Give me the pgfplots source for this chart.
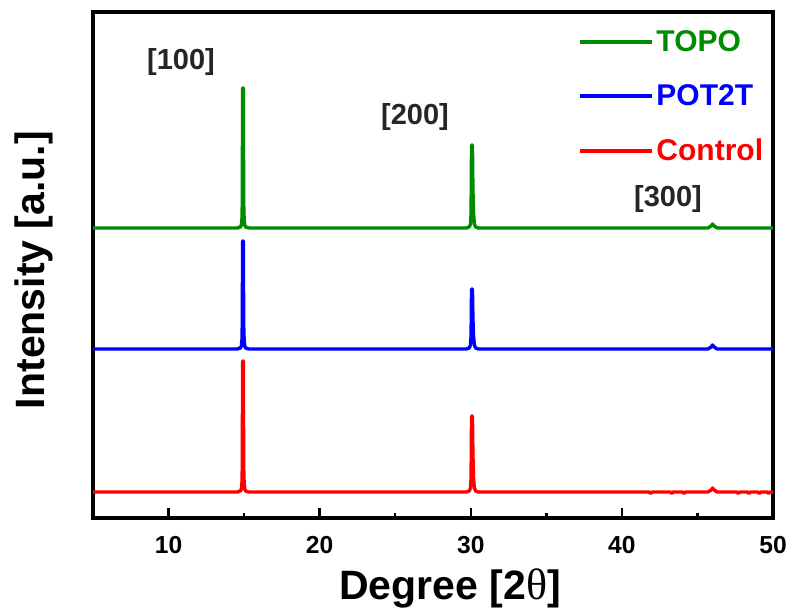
\documentclass[border=0pt]{standalone}
\usepackage{fontspec}
\setmainfont{Liberation Sans}
\newfontfamily\symfont{Liberation Serif}
\usepackage{pgfplots}
\pgfplotsset{compat=1.18}
\definecolor{topo}{RGB}{0,140,0}
\definecolor{pot}{RGB}{0,0,255}
\definecolor{ctrl}{RGB}{255,0,0}
\begin{document}
\begin{tikzpicture}
\begin{axis}[
  scale only axis, width=340pt, height=253pt,
  xmin=5, xmax=50, ymin=0, ymax=506,
  xtick={10,20,30,40,50}, minor x tick num=1,
  ytick=\empty, xtick pos=left, tick align=inside,
  major tick length=5pt, minor tick length=2.5pt,
  every tick/.style={black, line width=1.2pt},
  axis line style={line width=2.2pt},
  /pgf/number format/assume math mode=true,
  ticklabel style={font=\fontsize{12.3}{14}\selectfont\bfseries},
  xticklabel style={yshift=-5.5pt},
  xlabel={Degree [2{\symfont\mdseries\fontsize{22}{24}\selectfont θ}]},
  ylabel={Intensity [a.u.]},
  label style={font=\fontsize{20.5}{24}\selectfont\bfseries},
  xlabel style={at={(axis description cs:0.5,0)}, anchor=center, yshift=-35pt, xshift=8.5pt},
  ylabel style={at={(axis description cs:-0.087,0.49)}, anchor=center},
  legend style={draw=none, fill=none, at={(axis cs:37.1,490)}, anchor=north west,
    font=\fontsize{15}{18}\selectfont\bfseries, row sep=13pt, inner sep=0pt,
    nodes={inner sep=1pt}},
  legend cell align=left,
  legend image code/.code={\draw[#1,line width=2pt] (0pt,0pt) -- (36pt,0pt);},
  every axis plot/.append style={line width=1.7pt, line join=round},
]
% TOPO, baseline 290
\addplot[topo] coordinates {
(5,290) (14.55,290) (14.75,291) (14.82,293) (14.86,300) (14.88,316) (14.90,430) (14.95,430) (14.97,316) (15.0,300) (15.04,293) (15.1,291) (15.3,290)
(29.7,290) (29.9,291) (29.98,294) (30.02,305) (30.05,373) (30.11,373) (30.14,330) (30.18,305) (30.24,294) (30.32,291) (30.5,290)
(45.7,290) (45.9,292) (46.0,294) (46.1,292) (46.3,290) (50,290)};
\addlegendentry{\textcolor{topo}{TOPO}}
% POT2T, baseline 169
\addplot[pot] coordinates {
(5,169) (14.55,169) (14.75,170) (14.82,172) (14.86,179) (14.88,195) (14.90,277) (14.95,277) (14.97,195) (15.0,179) (15.04,172) (15.1,170) (15.3,169)
(29.7,169) (29.9,170) (29.98,173) (30.02,182) (30.05,229) (30.11,229) (30.14,200) (30.18,182) (30.24,173) (30.32,170) (30.5,169)
(45.7,169) (45.9,171) (46.0,173) (46.1,171) (46.3,169) (50,169)};
\addlegendentry{\textcolor{pot}{POT2T}}
% Control, baseline 26
\addplot[ctrl] coordinates {
(5,26) (14.55,26) (14.75,27) (14.82,29) (14.86,36) (14.88,52) (14.90,157) (14.95,157) (14.97,52) (15.0,36) (15.04,29) (15.1,27) (15.3,26)
(29.7,26) (29.9,27) (29.98,30) (30.02,40) (30.05,102) (30.11,102) (30.14,65) (30.18,40) (30.24,30) (30.32,27) (30.5,26)
(41.8,26) (41.9,24.5) (42.0,26) (43.2,26) (43.3,24.5) (43.4,26) (44.0,26) (44.1,24.5) (44.2,26)
(45.7,26) (45.9,28) (46.0,30) (46.1,28) (46.3,26)
(47.6,26) (47.7,24.5) (47.8,26) (48.3,26) (48.4,24.5) (48.5,26) (49.0,26) (49.1,24.5) (49.2,26) (49.6,26) (49.7,24.5) (49.8,26) (50,26)};
\addlegendentry{\textcolor{ctrl}{Control}}
\node[font=\fontsize{14.5}{17}\selectfont\bfseries, text=black!85] at (axis cs:10.82,456) {[100]};
\node[font=\fontsize{14.5}{17}\selectfont\bfseries, text=black!85] at (axis cs:26.31,401) {[200]};
\node[font=\fontsize{14.5}{17}\selectfont\bfseries, text=black!85] at (axis cs:43.05,319) {[300]};
\coordinate (sw) at (rel axis cs:0,0);
\end{axis}
\path (sw) ++(-46.5pt,-44.5pt) rectangle ++(397.5pt,303.5pt);
\end{tikzpicture}
\end{document}
